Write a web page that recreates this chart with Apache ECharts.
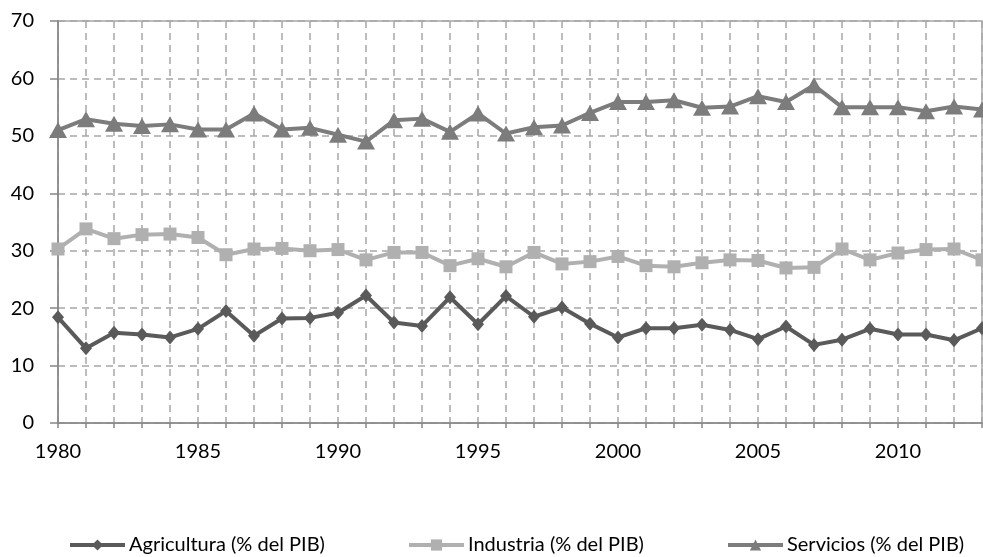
<!DOCTYPE html>
<html>
<head>
<meta charset="utf-8">
<script src="https://cdn.jsdelivr.net/npm/echarts@6/dist/echarts.min.js"></script>
<style>
html,body{margin:0;padding:0;background:#fff;}
#chart{width:983px;height:557px;}
</style>
</head>
<body>
<div id="chart"></div>
<script>
const years = [];
for (let y = 1980; y <= 2013; y++) years.push(String(y));

const agricultura = [18.4, 13.0, 15.7, 15.4, 14.9, 16.4, 19.5, 15.2, 18.2, 18.3, 19.2, 22.2, 17.5, 16.9, 21.9, 17.2,
  22.1, 18.5, 20.1, 17.3, 14.9, 16.5, 16.5, 17.1, 16.2, 14.6, 16.8, 13.6, 14.5, 16.4, 15.4, 15.4, 14.4, 16.5];
const industria = [30.3, 33.8, 32.1, 32.8, 32.9, 32.3, 29.3, 30.3, 30.4, 30.0, 30.2, 28.4, 29.7, 29.7, 27.4, 28.6,
  27.2, 29.7, 27.7, 28.1, 29.0, 27.4, 27.2, 27.9, 28.4, 28.3, 27.0, 27.1, 30.3, 28.4, 29.6, 30.2, 30.3, 28.4];
const servicios = [51.0, 52.9, 52.1, 51.7, 52.0, 51.1, 51.1, 53.9, 51.1, 51.4, 50.2, 49.0, 52.7, 53.0, 50.7, 53.9,
  50.4, 51.5, 51.8, 54.0, 55.9, 55.9, 56.2, 54.9, 55.1, 56.9, 55.9, 58.8, 55.0, 55.0, 55.0, 54.3, 55.1, 54.6];

const names = ['Agricultura (% del PIB)', 'Industria (% del PIB)', 'Servicios (% del PIB)'];
const FONT = 'Lato, "Open Sans", sans-serif';
const gridColor = '#a6a6a6';
const axisColor = '#868686';

const chart = echarts.init(document.getElementById('chart'), null, {renderer: 'canvas'});

function legendAt(name, left) {
  return {
    data: [name], left: left, top: 535, padding: 0, itemWidth: 55, itemHeight: 14,
    lineStyle: {width: 4},
    textStyle: {fontFamily: FONT, fontSize: 20, color: '#000', padding: [0, 0, 0, -1]},
    itemGap: 0
  };
}

chart.setOption({
  animation: false,
  backgroundColor: '#fff',
  grid: {left: 58, right: 1, top: 21, bottom: 134, show: true, borderColor: gridColor, borderWidth: 1.5},
  legend: [legendAt(names[0], 68), legendAt(names[1], 407), legendAt(names[2], 726)],
  xAxis: {
    type: 'category', data: years, boundaryGap: false,
    axisLine: {lineStyle: {color: axisColor, width: 1.5}},
    axisTick: {show: true, interval: 0, length: 5, lineStyle: {color: axisColor, width: 1.5}},
    axisLabel: {interval: 4, margin: 19, fontFamily: FONT, fontSize: 20, color: '#000'},
    splitLine: {show: true, interval: 0, lineStyle: {color: gridColor, type: [7, 5], width: 1.5}}
  },
  yAxis: {
    type: 'value', min: 0, max: 70, interval: 10,
    axisLine: {show: true, lineStyle: {color: axisColor, width: 1.5}},
    axisTick: {show: true, length: 8, lineStyle: {color: axisColor, width: 1.5}},
    axisLabel: {margin: 24, fontFamily: FONT, fontSize: 20, color: '#000'},
    splitLine: {show: true, lineStyle: {color: gridColor, type: [7, 5], width: 1.5}}
  },
  series: [
    {name: names[0], type: 'line', data: agricultura, symbol: 'diamond', symbolSize: [12, 14],
      itemStyle: {color: '#5a5a5a'}, lineStyle: {color: '#5a5a5a', width: 4}, clip: false},
    {name: names[1], type: 'line', data: industria, symbol: 'rect', symbolSize: 13,
      itemStyle: {color: '#b0b0b0'}, lineStyle: {color: '#b0b0b0', width: 4}, clip: false},
    {name: names[2], type: 'line', data: servicios, symbol: 'triangle', symbolSize: [18, 16],
      itemStyle: {color: '#7c7c7c'}, lineStyle: {color: '#7c7c7c', width: 4}, clip: false}
  ]
});
</script>
</body>
</html>
